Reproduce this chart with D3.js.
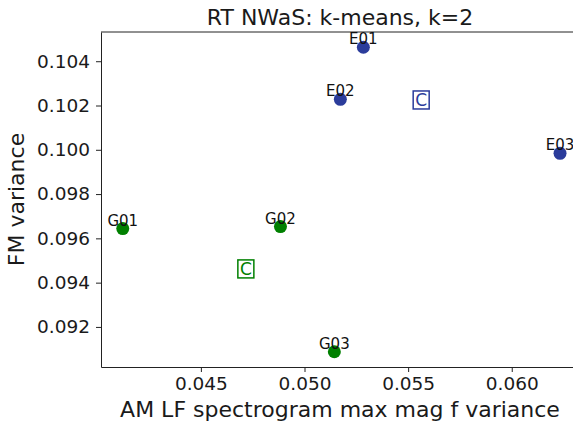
<!DOCTYPE html>
<html>
<head>
<meta charset="utf-8">
<script src="https://cdn.jsdelivr.net/npm/d3@7"></script>
<style>
    body { margin: 0; background: #fff; }
    svg { display: block; font-family: "DejaVu Sans", sans-serif; }
</style>
</head>
<body>
<div id="chart"></div>
<script>
// point names, cluster and values
var names = ["E01", "E02", "E03", "G01", "G02", "G03"];
var cluster = [0, 0, 0, 1, 1, 1];
var xVals = [0.05284, 0.05173, 0.06233, 0.04123, 0.04884, 0.05144];
var yVals = [0.10463, 0.10228, 0.09984, 0.09644, 0.09653, 0.09088];

// cluster centres
var centreX = [0.05563, 0.04717];
var centreY = [0.10225, 0.09462];
var clusterColors = ["#2b3c9b", "#008000"];

var xTicks = [0.045, 0.050, 0.055, 0.060];
var yTicks = [0.092, 0.094, 0.096, 0.098, 0.100, 0.102, 0.104];

var width = 573, height = 425;
var margin = {top: 32, left: 101, bottom: 58, right: -9};

var svg = d3.select("#chart").append("svg")
    .attr("width", width)
    .attr("height", height);

var x = d3.scaleLinear()
    .domain([0.04018, 0.06339])
    .range([margin.left, width - margin.right]);

var y = d3.scaleLinear()
    .domain([0.09019, 0.10532])
    .range([height - margin.bottom, margin.top]);

//axes
var xAxis = svg.append("g")
    .attr("transform", "translate(0," + (height - margin.bottom) + ")")
    .call(d3.axisBottom(x).tickValues(xTicks).tickFormat(d3.format(".3f")).tickSize(5).tickSizeOuter(0).tickPadding(5));

var yAxis = svg.append("g")
    .attr("transform", "translate(" + margin.left + ",0)")
    .call(d3.axisLeft(y).tickValues(yTicks).tickFormat(d3.format(".3f")).tickSize(5).tickSizeOuter(0).tickPadding(6));

[xAxis, yAxis].forEach(function(a){
    a.selectAll("text").attr("font-size", 18.5).attr("fill", "#1a1a1a").attr("font-family", "DejaVu Sans");
    a.selectAll("line").attr("stroke", "#222");
    a.select(".domain").attr("stroke", "#222");
});

//top spine
svg.append("line")
    .attr("x1", margin.left).attr("x2", width - margin.right)
    .attr("y1", margin.top).attr("y2", margin.top)
    .attr("stroke", "#222");

//points
var pts = svg.append("g");
names.forEach(function(n, i){
    pts.append("circle")
        .attr("cx", x(xVals[i]))
        .attr("cy", y(yVals[i]))
        .attr("r", 6.5)
        .attr("fill", clusterColors[cluster[i]]);
});

//point labels
names.forEach(function(n, i){
    pts.append("text")
        .attr("x", x(xVals[i]))
        .attr("y", y(yVals[i]) - 3)
        .attr("text-anchor", "middle")
        .attr("font-size", 15)
        .attr("fill", "#111")
        .text(n);
});

//centre markers, a boxed C
centreX.forEach(function(cx, i){
    var g = svg.append("g")
        .attr("transform", "translate(" + x(cx) + "," + y(centreY[i]) + ")");
    g.append("rect")
        .attr("x", -8).attr("y", -9)
        .attr("width", 16).attr("height", 18)
        .attr("fill", "#fff")
        .attr("stroke", clusterColors[i])
        .attr("stroke-width", 1.5);
    g.append("text")
        .attr("y", 6.5)
        .attr("text-anchor", "middle")
        .attr("font-size", 17)
        .attr("fill", clusterColors[i])
        .text("C");
});

//title and axis labels
svg.append("text")
    .attr("x", 340).attr("y", 25)
    .attr("text-anchor", "middle")
    .attr("font-size", 22)
    .attr("fill", "#1a1a1a")
    .text("RT NWaS: k-means, k=2");

svg.append("text")
    .attr("x", 340).attr("y", 417)
    .attr("text-anchor", "middle")
    .attr("font-size", 22)
    .attr("fill", "#1a1a1a")
    .text("AM LF spectrogram max mag f variance");

svg.append("text")
    .attr("transform", "translate(24," + ((margin.top + height - margin.bottom) / 2) + ") rotate(-90)")
    .attr("text-anchor", "middle")
    .attr("font-size", 22)
    .attr("fill", "#1a1a1a")
    .text("FM variance");
</script>
</body>
</html>
